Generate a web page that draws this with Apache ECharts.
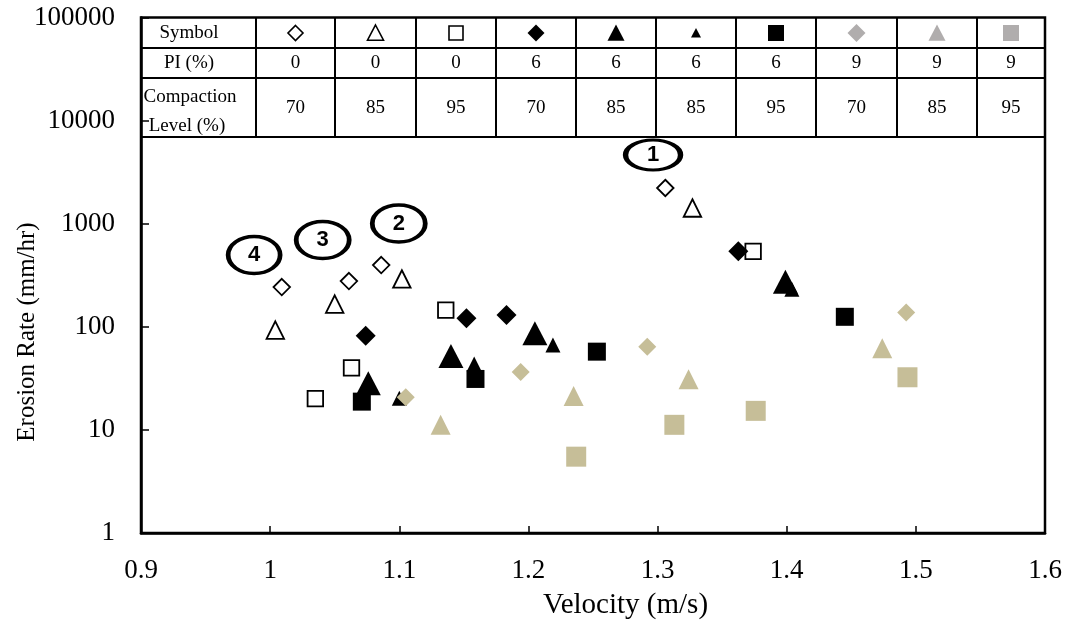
<!DOCTYPE html>
<html><head><meta charset="utf-8">
<script src="https://cdn.jsdelivr.net/npm/echarts@6/dist/echarts.min.js"></script>
<style>html,body{margin:0;padding:0;background:#fff}#c{width:1070px;height:630px}</style>
</head><body><div id="c"></div>
<script>
// ---- data (velocity m/s, erosion rate mm/hr) ----
const hollowDiamond       = [[1.009,243],[1.061,278],[1.086,397],[1.306,2220]];
const hollowTriangle      = [[1.004,93],[1.050,166],[1.102,291],[1.327,1420]];
const hollowSquare        = [[1.035,20.1],[1.063,39.9],[1.136,145],[1.374,540]];
const filledDiamond       = [[1.074,82],[1.152,121],[1.183,130],[1.3625,540]];
const filledTriangleLarge = [[1.076,28.3],[1.140,52],[1.205,86.5],[1.399,274]];
const filledTriangleSmall = [[1.100,20.3],[1.158,43.6],[1.219,66.6],[1.404,231]];
const filledSquare        = [[1.071,18.8],[1.159,31.2],[1.253,57.4],[1.445,125]];
const tanDiamond          = [[1.105,20.7],[1.194,36.4],[1.292,64],[1.4925,138]];
const tanTriangle         = [[1.132,11.2],[1.235,21.3],[1.324,31.0],[1.474,61.9]];
const tanSquare           = [[1.237,5.5],[1.313,11.2],[1.376,15.3],[1.4935,32.4]];
const annotLabels = ['1','2','3','4'];
const annotPoints = [[1.2965,4637],[1.0996,1005],[1.0407,695],[0.9876,497]];
const tableRowHeaders = ['Symbol','PI (%)','Compaction','Level (%)'];
const piValues = ['0','0','0','6','6','6','6','9','9','9'];
const compactionValues = ['70','85','95','70','85','85','95','70','85','95'];
const xTitle = 'Velocity (m/s)';
const yTitle = 'Erosion Rate (mm/hr)';

// ---- styling ----
const SERIF = '"Liberation Serif","Times New Roman",serif';
const TAN = '#c6be98';
const GRAY = '#b0adad';

function sc(name, data, symbol, size, fill, stroke, bw){
  return {type:'scatter', name, data, symbol, symbolSize:size,
    itemStyle:{color:fill, borderColor:stroke, borderWidth:bw, opacity:1},
    emphasis:{disabled:true}, silent:true};
}

const series = [
  sc('PI 0%, 70%', hollowDiamond, 'diamond', 16.5, '#fff', '#000', 1.8),
  sc('PI 0%, 85%', hollowTriangle, 'triangle', 17.5, '#fff', '#000', 1.8),
  sc('PI 0%, 95%', hollowSquare, 'rect', 15.5, '#fff', '#000', 1.8),
  sc('PI 6%, 70%', filledDiamond, 'diamond', 20, '#000', '#000', 0),
  sc('PI 6%, 85% (a)', filledTriangleLarge, 'triangle', [25,24], '#000', '#000', 0),
  sc('PI 6%, 85% (b)', filledTriangleSmall, 'triangle', 15, '#000', '#000', 0),
  sc('PI 6%, 95%', filledSquare, 'rect', 18, '#000', '#000', 0),
  sc('PI 9%, 70%', tanDiamond, 'diamond', 18, TAN, TAN, 0),
  sc('PI 9%, 85%', tanTriangle, 'triangle', 20, TAN, TAN, 0),
  sc('PI 9%, 95%', tanSquare, 'rect', 20, TAN, TAN, 0),
];
const annotSizes = [[55,30],[53,37],[53,37],[52,37]];
series.push({
  type:'scatter', name:'annotations', silent:true, z:5,
  symbol:'circle',
  data: annotPoints.map((p,i)=>({name:annotLabels[i], value:p, symbolSize:annotSizes[i]})),
  itemStyle:{color:'rgba(255,255,255,0)', borderColor:'#000', borderWidth:4, opacity:1},
  label:{show:true, position:'inside', formatter:'{b}', color:'#000',
    fontFamily:'"Liberation Sans",Arial,sans-serif', fontWeight:'bold', fontSize:22},
  emphasis:{disabled:true}
});

// ---- table (graphic) ----
const L = 141, R = 1045, T = 17.5;
const rowY = [17.5, 48, 78, 137];
const colX = [141,256,335,416,496,576,656,736,816,897,977,1045];
const g = [];
const lineStyle = {stroke:'#000', lineWidth:2};
rowY.slice(1).forEach(y=>g.push({type:'line', shape:{x1:L,y1:y,x2:R,y2:y}, style:lineStyle, z:10}));
colX.slice(1,-1).forEach(x=>g.push({type:'line', shape:{x1:x,y1:T,x2:x,y2:rowY[3]}, style:lineStyle, z:10}));
function txt(t,x,y){ return {type:'text', x, y, z:11, style:{text:t, align:'center', verticalAlign:'middle', fontFamily:SERIF, fontSize:19, fill:'#000'}}; }
g.push(txt(tableRowHeaders[0],189,33));
g.push(txt(tableRowHeaders[1],189,63));
g.push(txt(tableRowHeaders[2],190,97));
g.push(txt(tableRowHeaders[3],187,126));
const tableSym = [
  ['diamond',15,'#fff','#000',1.6],['triangle',16,'#fff','#000',1.6],['rect',14,'#fff','#000',1.6],
  ['diamond',17,'#000',null,0],['triangle',17,'#000',null,0],['triangle',10,'#000',null,0],['rect',16,'#000',null,0],
  ['diamond',18,GRAY,null,0],['triangle',17,GRAY,null,0],['rect',16,GRAY,null,0]
];
for(let i=0;i<10;i++){
  const cx = (colX[i+1]+colX[i+2])/2, cy = 33;
  const [shape,s,fill,stroke,lw] = tableSym[i];
  const h = s/2;
  const st = {fill, stroke: stroke||'none', lineWidth: lw};
  if(shape==='diamond') g.push({type:'polygon', z:11, shape:{points:[[cx,cy-h],[cx+h,cy],[cx,cy+h],[cx-h,cy]]}, style:st});
  else if(shape==='triangle') g.push({type:'polygon', z:11, shape:{points:[[cx,cy-h],[cx+h,cy+h*0.9],[cx-h,cy+h*0.9]]}, style:st});
  else g.push({type:'rect', z:11, shape:{x:cx-h,y:cy-h,width:s,height:s}, style:st});
  g.push(txt(piValues[i], cx, 63));
  g.push(txt(compactionValues[i], cx, 108));
}
// y-axis title (centred on the area below the table, as in the original)
g.push({type:'text', x:27, y:332, rotation:Math.PI/2, z:11,
  style:{text:yTitle, align:'center', verticalAlign:'middle', fontFamily:SERIF, fontSize:25, fill:'#000'}});

const chart = echarts.init(document.getElementById('c'), null, {renderer:'canvas'});
chart.setOption({
  animation:false,
  backgroundColor:'#fff',
  grid:{left:141, right:25, top:17.5, bottom:97, containLabel:false, outerBoundsMode:'none',
    show:true, borderColor:'#000', borderWidth:2.5, backgroundColor:'transparent'},
  xAxis:{type:'value', min:0.9, max:1.6, interval:0.1,
    name:xTitle, nameLocation:'middle', nameGap:58,
    nameTextStyle:{fontFamily:SERIF, fontSize:29, color:'#000', padding:[0,0,0,65]},
    axisLine:{show:true, lineStyle:{color:'#000', width:2.5}},
    axisTick:{show:true, inside:true, length:7, lineStyle:{color:'#000', width:1.5}},
    axisLabel:{fontFamily:SERIF, fontSize:27, color:'#000', margin:24},
    splitLine:{show:false}},
  yAxis:{type:'log', logBase:10, min:1, max:100000,
    axisLine:{show:true, lineStyle:{color:'#000', width:2.5}},
    axisTick:{show:true, inside:true, length:8, lineStyle:{color:'#000', width:1.5}},
    axisLabel:{fontFamily:SERIF, fontSize:27, color:'#000', margin:26,
      formatter:v=>String(Math.round(v))},
    splitLine:{show:false}, minorTick:{show:false}},
  series,
  graphic:g
});
</script></body></html>
